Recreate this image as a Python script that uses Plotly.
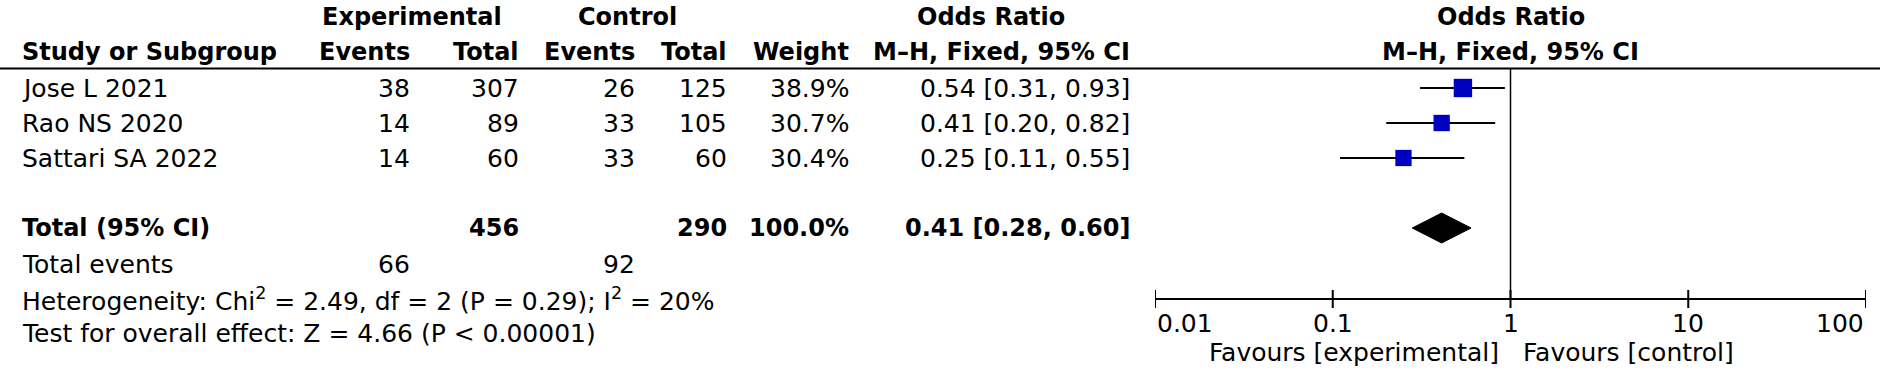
import math
import plotly.graph_objects as go

# ---------------- data ----------------
studies = ["Jose L 2021", "Rao NS 2020", "Sattari SA 2022"]
exp_events = [38, 14, 14]
exp_total = [307, 89, 60]
ctl_events = [26, 33, 33]
ctl_total = [125, 105, 60]
weights = [38.9, 30.7, 30.4]
or_est = [0.54, 0.41, 0.25]
or_lo = [0.31, 0.20, 0.11]
or_hi = [0.93, 0.82, 0.55]

total_label = "Total (95% CI)"
total_exp = 456
total_ctl = 290
total_weight = "100.0%"
pooled_est = 0.41
pooled_lo = 0.28
pooled_hi = 0.60
total_events_exp = 66
total_events_ctl = 92
heterogeneity = "Heterogeneity: Chi<sup>2</sup> = 2.49, df = 2 (P = 0.29); I<sup>2</sup> = 20%"
overall_test = "Test for overall effect: Z = 4.66 (P &lt; 0.00001)"

tick_vals = [0.01, 0.1, 1, 10, 100]
tick_text = ["0.01", "0.1", "1", "10", "100"]
favours_left = "Favours [experimental]"
favours_right = "Favours [control]"

# ---------------- layout constants (pixels) ----------------
W, H = 1890, 385
FONT = "DejaVu Sans"
FS = 25
FSB = 24
row_y0, row_h = 88, 35
rows_y = [row_y0 + i * row_h for i in range(len(studies))]
total_y = 228
tev_y = 264
het_y = 299
test_y = 333
head1_y, head2_y, rule_y = 17, 52, 68.5
axis_y = 299
tick_lab_y = 323
fav_y = 352
ax_left, ax_right = 1155, 1866

col_study = 20
col_ee, col_et, col_ce, col_ct, col_w, col_or = 412, 521, 637, 729, 851, 1132
fav_gap = 10

fig = go.Figure()

# confidence intervals
cx, cy = [], []
for lo, hi, y in zip(or_lo, or_hi, rows_y):
    cx += [lo, hi, None]
    cy += [y, y, None]
fig.add_trace(go.Scatter(x=cx, y=cy, mode="lines",
                         line=dict(color="black", width=2), hoverinfo="skip"))

# study markers (area proportional to weight)
fig.add_trace(go.Scatter(
    x=or_est, y=rows_y, mode="markers",
    marker=dict(symbol="square", color="#0000C0", opacity=1,
                size=[2.95 * math.sqrt(w) for w in weights],
                line=dict(width=0)),
    hoverinfo="skip"))

# pooled diamond
dh = 15
fig.add_trace(go.Scatter(
    x=[pooled_lo, pooled_est, pooled_hi, pooled_est, pooled_lo],
    y=[total_y, total_y - dh, total_y, total_y + dh, total_y],
    mode="lines", fill="toself", fillcolor="black",
    line=dict(color="black", width=1), hoverinfo="skip"))

# line of no effect
fig.add_trace(go.Scatter(x=[1, 1], y=[rule_y, axis_y], mode="lines",
                         line=dict(color="black", width=1.5), hoverinfo="skip"))

# axis line + ticks
fig.add_trace(go.Scatter(x=[tick_vals[0], tick_vals[-1]], y=[axis_y, axis_y],
                         mode="lines", line=dict(color="black", width=2),
                         hoverinfo="skip"))
tx, ty = [], []
for t in tick_vals:
    tx += [t, t, None]
    ty += [axis_y - 9, axis_y + 9, None]
fig.add_trace(go.Scatter(x=tx, y=ty, mode="lines",
                         line=dict(color="black", width=2), hoverinfo="skip"))

ann = []


def px(x):
    return x / W


def txt(text, x, y, anchor="left", bold=False):
    ann.append(dict(
        text=("<b>%s</b>" % text) if bold else text,
        x=px(x), y=y, xref="paper", yref="y",
        xanchor=anchor, yanchor="middle", showarrow=False,
        font=dict(family=FONT, size=FSB if bold else FS, color="black")))


# headers
txt("Experimental", col_ee, head1_y, "center", True)
txt("Control", 627, head1_y, "center", True)
txt("Odds Ratio", 991, head1_y, "center", True)
txt("Study or Subgroup", col_study, head2_y, "left", True)
txt("Events", col_ee, head2_y, "right", True)
txt("Total", col_et, head2_y, "right", True)
txt("Events", col_ce, head2_y, "right", True)
txt("Total", col_ct, head2_y, "right", True)
txt("Weight", col_w, head2_y, "right", True)
txt("M\u2013H, Fixed, 95% CI", col_or, head2_y, "right", True)

# right panel headers centred on the null line (log10(1) = 0)
ann.append(dict(text="<b>Odds Ratio</b>", x=0, y=head1_y, xref="x", yref="y",
                xanchor="center", yanchor="middle", showarrow=False,
                font=dict(family=FONT, size=FSB, color="black")))
ann.append(dict(text="<b>M\u2013H, Fixed, 95% CI</b>", x=0, y=head2_y, xref="x", yref="y",
                xanchor="center", yanchor="middle", showarrow=False,
                font=dict(family=FONT, size=FSB, color="black")))

# study rows
for i, y in enumerate(rows_y):
    txt(studies[i], col_study, y)
    txt(str(exp_events[i]), col_ee, y, "right")
    txt(str(exp_total[i]), col_et, y, "right")
    txt(str(ctl_events[i]), col_ce, y, "right")
    txt(str(ctl_total[i]), col_ct, y, "right")
    txt("%.1f%%" % weights[i], col_w, y, "right")
    txt("%.2f [%.2f, %.2f]" % (or_est[i], or_lo[i], or_hi[i]), col_or, y, "right")

# total rows
txt(total_label, col_study, total_y, "left", True)
txt(str(total_exp), col_et, total_y, "right", True)
txt(str(total_ctl), col_ct, total_y, "right", True)
txt(total_weight, col_w, total_y, "right", True)
txt("%.2f [%.2f, %.2f]" % (pooled_est, pooled_lo, pooled_hi), col_or, total_y, "right", True)
txt("Total events", col_study, tev_y)
txt(str(total_events_exp), col_ee, tev_y, "right")
txt(str(total_events_ctl), col_ce, tev_y, "right")
txt(heterogeneity, col_study, het_y)
txt(overall_test, col_study, test_y)

# tick labels
for i, (t, lab) in enumerate(zip(tick_vals, tick_text)):
    anchor = "left" if i == 0 else ("right" if i == len(tick_vals) - 1 else "center")
    ann.append(dict(text=lab, x=math.log10(t), y=tick_lab_y, xref="x", yref="y",
                    xanchor=anchor, yanchor="middle", showarrow=False,
                    font=dict(family=FONT, size=FS, color="black")))

# favours labels
ann.append(dict(text=favours_left, x=0, y=fav_y, xref="x", yref="y",
                xanchor="right", yanchor="middle", showarrow=False, xshift=-fav_gap,
                font=dict(family=FONT, size=FS, color="black")))
ann.append(dict(text=favours_right, x=0, y=fav_y, xref="x", yref="y",
                xanchor="left", yanchor="middle", showarrow=False, xshift=fav_gap,
                font=dict(family=FONT, size=FS, color="black")))

fig.update_layout(
    width=W, height=H, autosize=False,
    margin=dict(l=0, r=0, t=0, b=0, pad=0),
    paper_bgcolor="white", plot_bgcolor="white",
    showlegend=False,
    annotations=ann,
    shapes=[dict(type="line", xref="paper", yref="y", x0=0, x1=1880 / W,
                 y0=rule_y, y1=rule_y, line=dict(color="black", width=2))],
    xaxis=dict(type="log", range=[-2, 2],
               domain=[ax_left / W, ax_right / W], visible=False, fixedrange=True),
    yaxis=dict(range=[H, 0], domain=[0, 1], visible=False, fixedrange=True),
)

fig.write_html("out.html", config={"displayModeBar": False, "staticPlot": True},
               post_script="document.body.style.margin='0';")
